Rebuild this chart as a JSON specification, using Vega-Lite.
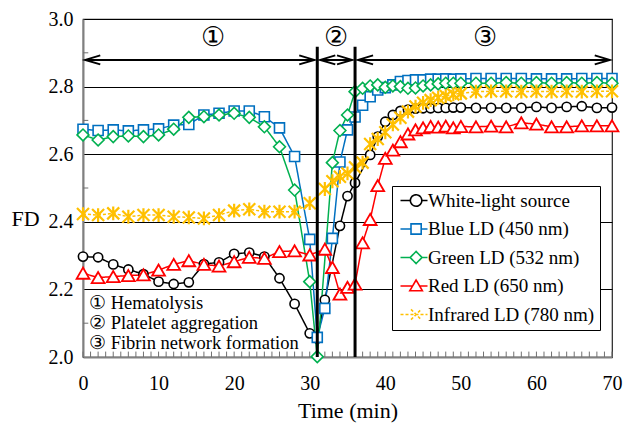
{
  "$schema": "https://vega.github.io/schema/vega-lite/v6.json",
  "width": 529,
  "height": 338,
  "autosize": {"type": "none"},
  "padding": {"left": 83, "top": 19, "right": 18, "bottom": 67},
  "config": {
    "font": "Liberation Serif, Times New Roman, serif",
    "view": {"stroke": "#222222", "strokeWidth": 1.2},
    "axis": {"labelColor": "black", "titleColor": "black", "titleFontWeight": "normal", "labelFont": "Liberation Serif, Times New Roman, serif", "titleFont": "Liberation Serif, Times New Roman, serif"}
  },
  "datasets": {
    "fd": [
      {"series": "White-light source", "t": 0, "fd": 2.297},
      {"series": "White-light source", "t": 2, "fd": 2.295},
      {"series": "White-light source", "t": 4, "fd": 2.274},
      {"series": "White-light source", "t": 6, "fd": 2.259},
      {"series": "White-light source", "t": 8, "fd": 2.245},
      {"series": "White-light source", "t": 10, "fd": 2.223},
      {"series": "White-light source", "t": 12, "fd": 2.216},
      {"series": "White-light source", "t": 14, "fd": 2.221},
      {"series": "White-light source", "t": 16, "fd": 2.275},
      {"series": "White-light source", "t": 18, "fd": 2.28},
      {"series": "White-light source", "t": 20, "fd": 2.305},
      {"series": "White-light source", "t": 22, "fd": 2.309},
      {"series": "White-light source", "t": 24, "fd": 2.297},
      {"series": "White-light source", "t": 26, "fd": 2.233},
      {"series": "White-light source", "t": 28, "fd": 2.157},
      {"series": "White-light source", "t": 30, "fd": 2.07},
      {"series": "White-light source", "t": 31, "fd": 2.055},
      {"series": "White-light source", "t": 32, "fd": 2.169},
      {"series": "White-light source", "t": 34, "fd": 2.388},
      {"series": "White-light source", "t": 35, "fd": 2.476},
      {"series": "White-light source", "t": 36, "fd": 2.515},
      {"series": "White-light source", "t": 38, "fd": 2.598},
      {"series": "White-light source", "t": 39, "fd": 2.652},
      {"series": "White-light source", "t": 40, "fd": 2.696},
      {"series": "White-light source", "t": 41, "fd": 2.716},
      {"series": "White-light source", "t": 42, "fd": 2.728},
      {"series": "White-light source", "t": 43, "fd": 2.732},
      {"series": "White-light source", "t": 44, "fd": 2.735},
      {"series": "White-light source", "t": 45, "fd": 2.736},
      {"series": "White-light source", "t": 46, "fd": 2.736},
      {"series": "White-light source", "t": 47, "fd": 2.737},
      {"series": "White-light source", "t": 48, "fd": 2.737},
      {"series": "White-light source", "t": 49, "fd": 2.738},
      {"series": "White-light source", "t": 50, "fd": 2.738},
      {"series": "White-light source", "t": 52, "fd": 2.737},
      {"series": "White-light source", "t": 54, "fd": 2.737},
      {"series": "White-light source", "t": 56, "fd": 2.737},
      {"series": "White-light source", "t": 58, "fd": 2.737},
      {"series": "White-light source", "t": 60, "fd": 2.74},
      {"series": "White-light source", "t": 62, "fd": 2.737},
      {"series": "White-light source", "t": 64, "fd": 2.74},
      {"series": "White-light source", "t": 66, "fd": 2.742},
      {"series": "White-light source", "t": 68, "fd": 2.737},
      {"series": "White-light source", "t": 70, "fd": 2.738},

      {"series": "Blue LD (450 nm)", "t": 0, "fd": 2.674},
      {"series": "Blue LD (450 nm)", "t": 2, "fd": 2.67},
      {"series": "Blue LD (450 nm)", "t": 4, "fd": 2.672},
      {"series": "Blue LD (450 nm)", "t": 6, "fd": 2.669},
      {"series": "Blue LD (450 nm)", "t": 8, "fd": 2.672},
      {"series": "Blue LD (450 nm)", "t": 10, "fd": 2.675},
      {"series": "Blue LD (450 nm)", "t": 12, "fd": 2.686},
      {"series": "Blue LD (450 nm)", "t": 14, "fd": 2.688},
      {"series": "Blue LD (450 nm)", "t": 16, "fd": 2.716},
      {"series": "Blue LD (450 nm)", "t": 18, "fd": 2.721},
      {"series": "Blue LD (450 nm)", "t": 20, "fd": 2.728},
      {"series": "Blue LD (450 nm)", "t": 22, "fd": 2.728},
      {"series": "Blue LD (450 nm)", "t": 24, "fd": 2.711},
      {"series": "Blue LD (450 nm)", "t": 26, "fd": 2.678},
      {"series": "Blue LD (450 nm)", "t": 28, "fd": 2.593},
      {"series": "Blue LD (450 nm)", "t": 30, "fd": 2.348},
      {"series": "Blue LD (450 nm)", "t": 31, "fd": 2.058},
      {"series": "Blue LD (450 nm)", "t": 32, "fd": 2.144},
      {"series": "Blue LD (450 nm)", "t": 33, "fd": 2.351},
      {"series": "Blue LD (450 nm)", "t": 34, "fd": 2.577},
      {"series": "Blue LD (450 nm)", "t": 35, "fd": 2.672},
      {"series": "Blue LD (450 nm)", "t": 36, "fd": 2.71},
      {"series": "Blue LD (450 nm)", "t": 37, "fd": 2.745},
      {"series": "Blue LD (450 nm)", "t": 38, "fd": 2.77},
      {"series": "Blue LD (450 nm)", "t": 39, "fd": 2.79},
      {"series": "Blue LD (450 nm)", "t": 40, "fd": 2.797},
      {"series": "Blue LD (450 nm)", "t": 41, "fd": 2.805},
      {"series": "Blue LD (450 nm)", "t": 42, "fd": 2.815},
      {"series": "Blue LD (450 nm)", "t": 43, "fd": 2.818},
      {"series": "Blue LD (450 nm)", "t": 44, "fd": 2.82},
      {"series": "Blue LD (450 nm)", "t": 45, "fd": 2.82},
      {"series": "Blue LD (450 nm)", "t": 46, "fd": 2.822},
      {"series": "Blue LD (450 nm)", "t": 47, "fd": 2.822},
      {"series": "Blue LD (450 nm)", "t": 48, "fd": 2.823},
      {"series": "Blue LD (450 nm)", "t": 49, "fd": 2.822},
      {"series": "Blue LD (450 nm)", "t": 50, "fd": 2.823},
      {"series": "Blue LD (450 nm)", "t": 52, "fd": 2.824},
      {"series": "Blue LD (450 nm)", "t": 54, "fd": 2.824},
      {"series": "Blue LD (450 nm)", "t": 56, "fd": 2.824},
      {"series": "Blue LD (450 nm)", "t": 58, "fd": 2.824},
      {"series": "Blue LD (450 nm)", "t": 60, "fd": 2.823},
      {"series": "Blue LD (450 nm)", "t": 62, "fd": 2.823},
      {"series": "Blue LD (450 nm)", "t": 64, "fd": 2.823},
      {"series": "Blue LD (450 nm)", "t": 66, "fd": 2.824},
      {"series": "Blue LD (450 nm)", "t": 68, "fd": 2.824},
      {"series": "Blue LD (450 nm)", "t": 70, "fd": 2.824},

      {"series": "Green LD (532 nm)", "t": 0, "fd": 2.657},
      {"series": "Green LD (532 nm)", "t": 2, "fd": 2.642},
      {"series": "Green LD (532 nm)", "t": 4, "fd": 2.652},
      {"series": "Green LD (532 nm)", "t": 6, "fd": 2.654},
      {"series": "Green LD (532 nm)", "t": 8, "fd": 2.652},
      {"series": "Green LD (532 nm)", "t": 10, "fd": 2.657},
      {"series": "Green LD (532 nm)", "t": 12, "fd": 2.674},
      {"series": "Green LD (532 nm)", "t": 14, "fd": 2.709},
      {"series": "Green LD (532 nm)", "t": 16, "fd": 2.711},
      {"series": "Green LD (532 nm)", "t": 18, "fd": 2.716},
      {"series": "Green LD (532 nm)", "t": 20, "fd": 2.721},
      {"series": "Green LD (532 nm)", "t": 22, "fd": 2.709},
      {"series": "Green LD (532 nm)", "t": 24, "fd": 2.681},
      {"series": "Green LD (532 nm)", "t": 26, "fd": 2.622},
      {"series": "Green LD (532 nm)", "t": 28, "fd": 2.494},
      {"series": "Green LD (532 nm)", "t": 30, "fd": 2.223},
      {"series": "Green LD (532 nm)", "t": 31, "fd": 2.001},
      {"series": "Green LD (532 nm)", "t": 33, "fd": 2.575},
      {"series": "Green LD (532 nm)", "t": 34, "fd": 2.67},
      {"series": "Green LD (532 nm)", "t": 35, "fd": 2.716},
      {"series": "Green LD (532 nm)", "t": 36, "fd": 2.785},
      {"series": "Green LD (532 nm)", "t": 37, "fd": 2.795},
      {"series": "Green LD (532 nm)", "t": 38, "fd": 2.802},
      {"series": "Green LD (532 nm)", "t": 39, "fd": 2.805},
      {"series": "Green LD (532 nm)", "t": 40, "fd": 2.798},
      {"series": "Green LD (532 nm)", "t": 41, "fd": 2.802},
      {"series": "Green LD (532 nm)", "t": 42, "fd": 2.8},
      {"series": "Green LD (532 nm)", "t": 43, "fd": 2.795},
      {"series": "Green LD (532 nm)", "t": 44, "fd": 2.796},
      {"series": "Green LD (532 nm)", "t": 45, "fd": 2.802},
      {"series": "Green LD (532 nm)", "t": 46, "fd": 2.805},
      {"series": "Green LD (532 nm)", "t": 47, "fd": 2.808},
      {"series": "Green LD (532 nm)", "t": 48, "fd": 2.81},
      {"series": "Green LD (532 nm)", "t": 49, "fd": 2.81},
      {"series": "Green LD (532 nm)", "t": 50, "fd": 2.81},
      {"series": "Green LD (532 nm)", "t": 52, "fd": 2.81},
      {"series": "Green LD (532 nm)", "t": 54, "fd": 2.81},
      {"series": "Green LD (532 nm)", "t": 56, "fd": 2.812},
      {"series": "Green LD (532 nm)", "t": 58, "fd": 2.81},
      {"series": "Green LD (532 nm)", "t": 60, "fd": 2.812},
      {"series": "Green LD (532 nm)", "t": 62, "fd": 2.81},
      {"series": "Green LD (532 nm)", "t": 64, "fd": 2.812},
      {"series": "Green LD (532 nm)", "t": 66, "fd": 2.81},
      {"series": "Green LD (532 nm)", "t": 68, "fd": 2.812},
      {"series": "Green LD (532 nm)", "t": 70, "fd": 2.81},

      {"series": "Red LD (650 nm)", "t": 0, "fd": 2.248},
      {"series": "Red LD (650 nm)", "t": 2, "fd": 2.235},
      {"series": "Red LD (650 nm)", "t": 4, "fd": 2.238},
      {"series": "Red LD (650 nm)", "t": 6, "fd": 2.241},
      {"series": "Red LD (650 nm)", "t": 8, "fd": 2.243},
      {"series": "Red LD (650 nm)", "t": 10, "fd": 2.257},
      {"series": "Red LD (650 nm)", "t": 12, "fd": 2.274},
      {"series": "Red LD (650 nm)", "t": 14, "fd": 2.285},
      {"series": "Red LD (650 nm)", "t": 16, "fd": 2.274},
      {"series": "Red LD (650 nm)", "t": 18, "fd": 2.269},
      {"series": "Red LD (650 nm)", "t": 20, "fd": 2.282},
      {"series": "Red LD (650 nm)", "t": 22, "fd": 2.295},
      {"series": "Red LD (650 nm)", "t": 24, "fd": 2.292},
      {"series": "Red LD (650 nm)", "t": 26, "fd": 2.312},
      {"series": "Red LD (650 nm)", "t": 28, "fd": 2.314},
      {"series": "Red LD (650 nm)", "t": 30, "fd": 2.302},
      {"series": "Red LD (650 nm)", "t": 32, "fd": 2.319},
      {"series": "Red LD (650 nm)", "t": 33, "fd": 2.265},
      {"series": "Red LD (650 nm)", "t": 34, "fd": 2.186},
      {"series": "Red LD (650 nm)", "t": 35, "fd": 2.206},
      {"series": "Red LD (650 nm)", "t": 36, "fd": 2.216},
      {"series": "Red LD (650 nm)", "t": 37, "fd": 2.338},
      {"series": "Red LD (650 nm)", "t": 38, "fd": 2.407},
      {"series": "Red LD (650 nm)", "t": 39, "fd": 2.507},
      {"series": "Red LD (650 nm)", "t": 40, "fd": 2.588},
      {"series": "Red LD (650 nm)", "t": 41, "fd": 2.612},
      {"series": "Red LD (650 nm)", "t": 42, "fd": 2.637},
      {"series": "Red LD (650 nm)", "t": 43, "fd": 2.66},
      {"series": "Red LD (650 nm)", "t": 44, "fd": 2.672},
      {"series": "Red LD (650 nm)", "t": 45, "fd": 2.678},
      {"series": "Red LD (650 nm)", "t": 46, "fd": 2.682},
      {"series": "Red LD (650 nm)", "t": 47, "fd": 2.68},
      {"series": "Red LD (650 nm)", "t": 48, "fd": 2.683},
      {"series": "Red LD (650 nm)", "t": 49, "fd": 2.678},
      {"series": "Red LD (650 nm)", "t": 50, "fd": 2.682},
      {"series": "Red LD (650 nm)", "t": 52, "fd": 2.681},
      {"series": "Red LD (650 nm)", "t": 54, "fd": 2.683},
      {"series": "Red LD (650 nm)", "t": 56, "fd": 2.681},
      {"series": "Red LD (650 nm)", "t": 58, "fd": 2.693},
      {"series": "Red LD (650 nm)", "t": 60, "fd": 2.689},
      {"series": "Red LD (650 nm)", "t": 62, "fd": 2.681},
      {"series": "Red LD (650 nm)", "t": 64, "fd": 2.681},
      {"series": "Red LD (650 nm)", "t": 66, "fd": 2.684},
      {"series": "Red LD (650 nm)", "t": 68, "fd": 2.684},
      {"series": "Red LD (650 nm)", "t": 70, "fd": 2.684},

      {"series": "Infrared LD (780 nm)", "t": 0, "fd": 2.423},
      {"series": "Infrared LD (780 nm)", "t": 2, "fd": 2.42},
      {"series": "Infrared LD (780 nm)", "t": 4, "fd": 2.425},
      {"series": "Infrared LD (780 nm)", "t": 6, "fd": 2.415},
      {"series": "Infrared LD (780 nm)", "t": 8, "fd": 2.42},
      {"series": "Infrared LD (780 nm)", "t": 10, "fd": 2.42},
      {"series": "Infrared LD (780 nm)", "t": 12, "fd": 2.415},
      {"series": "Infrared LD (780 nm)", "t": 14, "fd": 2.413},
      {"series": "Infrared LD (780 nm)", "t": 16, "fd": 2.41},
      {"series": "Infrared LD (780 nm)", "t": 18, "fd": 2.42},
      {"series": "Infrared LD (780 nm)", "t": 20, "fd": 2.433},
      {"series": "Infrared LD (780 nm)", "t": 22, "fd": 2.437},
      {"series": "Infrared LD (780 nm)", "t": 24, "fd": 2.43},
      {"series": "Infrared LD (780 nm)", "t": 26, "fd": 2.43},
      {"series": "Infrared LD (780 nm)", "t": 28, "fd": 2.43},
      {"series": "Infrared LD (780 nm)", "t": 30, "fd": 2.455},
      {"series": "Infrared LD (780 nm)", "t": 32, "fd": 2.497},
      {"series": "Infrared LD (780 nm)", "t": 33, "fd": 2.52},
      {"series": "Infrared LD (780 nm)", "t": 34, "fd": 2.533},
      {"series": "Infrared LD (780 nm)", "t": 35, "fd": 2.543},
      {"series": "Infrared LD (780 nm)", "t": 36, "fd": 2.561},
      {"series": "Infrared LD (780 nm)", "t": 37, "fd": 2.575},
      {"series": "Infrared LD (780 nm)", "t": 38, "fd": 2.63},
      {"series": "Infrared LD (780 nm)", "t": 39, "fd": 2.645},
      {"series": "Infrared LD (780 nm)", "t": 40, "fd": 2.665},
      {"series": "Infrared LD (780 nm)", "t": 41, "fd": 2.688},
      {"series": "Infrared LD (780 nm)", "t": 42, "fd": 2.708},
      {"series": "Infrared LD (780 nm)", "t": 43, "fd": 2.726},
      {"series": "Infrared LD (780 nm)", "t": 44, "fd": 2.741},
      {"series": "Infrared LD (780 nm)", "t": 45, "fd": 2.752},
      {"series": "Infrared LD (780 nm)", "t": 46, "fd": 2.76},
      {"series": "Infrared LD (780 nm)", "t": 47, "fd": 2.767},
      {"series": "Infrared LD (780 nm)", "t": 48, "fd": 2.772},
      {"series": "Infrared LD (780 nm)", "t": 49, "fd": 2.777},
      {"series": "Infrared LD (780 nm)", "t": 50, "fd": 2.78},
      {"series": "Infrared LD (780 nm)", "t": 52, "fd": 2.785},
      {"series": "Infrared LD (780 nm)", "t": 54, "fd": 2.786},
      {"series": "Infrared LD (780 nm)", "t": 56, "fd": 2.786},
      {"series": "Infrared LD (780 nm)", "t": 58, "fd": 2.785},
      {"series": "Infrared LD (780 nm)", "t": 60, "fd": 2.786},
      {"series": "Infrared LD (780 nm)", "t": 62, "fd": 2.785},
      {"series": "Infrared LD (780 nm)", "t": 64, "fd": 2.786},
      {"series": "Infrared LD (780 nm)", "t": 66, "fd": 2.785},
      {"series": "Infrared LD (780 nm)", "t": 68, "fd": 2.786},
      {"series": "Infrared LD (780 nm)", "t": 70, "fd": 2.786}
    ]
  },
  "layer": [
    {
      "data": {"values": [{"t":0},{"t":1},{"t":2},{"t":3},{"t":4},{"t":5},{"t":6},{"t":7},{"t":8},{"t":9},{"t":10},{"t":11},{"t":12},{"t":13},{"t":14},{"t":15},{"t":16},{"t":17},{"t":18},{"t":19},{"t":20},{"t":21},{"t":22},{"t":23},{"t":24},{"t":25},{"t":26},{"t":27},{"t":28},{"t":29},{"t":30},{"t":31},{"t":32},{"t":33},{"t":34},{"t":35},{"t":36},{"t":37},{"t":38},{"t":39},{"t":40},{"t":41},{"t":42},{"t":43},{"t":44},{"t":45},{"t":46},{"t":47},{"t":48},{"t":49},{"t":50},{"t":51},{"t":52},{"t":53},{"t":54},{"t":55},{"t":56},{"t":57},{"t":58},{"t":59},{"t":60},{"t":61},{"t":62},{"t":63},{"t":64},{"t":65},{"t":66},{"t":67},{"t":68},{"t":69},{"t":70}]},
      "mark": {"type": "rule", "color": "#707070", "strokeWidth": 1},
      "encoding": {
        "x": {
          "field": "t", "type": "quantitative",
          "scale": {"domain": [0, 70], "nice": false, "zero": false},
          "axis": {
            "values": [0,5,10,15,20,25,30,35,40,45,50,55,60,65,70],
            "format": "d",
            "labelFontSize": 20,
            "labelFlush": false,
            "labelOverlap": false,
            "ticks": false,
            "labelPadding": 16,
            "domainColor": "#808080",
            "domainWidth": 2,
            "grid": false,
            "title": "Time (min)",
            "titleFontSize": 22,
            "titleFontWeight": "normal",
            "titleY": 53,
            "titleBaseline": "middle"
          }
        },
        "y": {"datum": 2.0},
        "y2": {"datum": 2.016}
      }
    },
    {
      "data": {"values": [{"v":2.1},{"v":2.3},{"v":2.5},{"v":2.7},{"v":2.9}]},
      "mark": {"type": "rule", "color": "#707070", "strokeWidth": 1},
      "encoding": {
        "y": {
          "field": "v", "type": "quantitative",
          "scale": {"domain": [2.0, 3.0], "nice": false, "zero": false},
          "axis": {
            "values": [2.0,2.2,2.4,2.6,2.8,3.0],
            "format": ".1f",
            "labelFontSize": 20,
            "labelFlush": false,
            "labelOverlap": false,
            "ticks": false,
            "labelPadding": 10,
            "domainColor": "#808080",
            "domainWidth": 2,
            "grid": true,
            "gridColor": "black",
            "gridWidth": 1,
            "title": "FD",
            "titleFontSize": 22,
            "titleFontWeight": "normal",
            "titleAngle": 0,
            "titleX": -58,
            "titleY": 199,
            "titleAlign": "center",
            "titleBaseline": "middle"
          }
        },
        "x": {"datum": 0},
        "x2": {"datum": 0.7}
      }
    },
    {
      "data": {"name": "fd"},
      "mark": {"type": "line", "strokeWidth": 1.5},
      "encoding": {
        "x": {"field": "t", "type": "quantitative"},
        "y": {"field": "fd", "type": "quantitative"},
        "color": {
          "field": "series", "type": "nominal",
          "scale": {
            "domain": ["White-light source", "Blue LD (450 nm)", "Green LD (532 nm)", "Red LD (650 nm)", "Infrared LD (780 nm)"],
            "range": ["#000000", "#0070C0", "#00B050", "#FF0000", "#FFC000"]
          },
          "legend": {
            "orient": "none", "legendX": 309, "legendY": 167, "title": null,
            "labelFont": "Liberation Serif, Times New Roman, serif",
            "labelFontSize": 19, "labelColor": "black", "labelLimit": 400,
            "padding": 5, "rowPadding": 8.5, "strokeColor": "black", "fillColor": "white",
            "symbolSize": 144, "symbolStrokeWidth": 1.6, "symbolFillColor": "white", "symbolOpacity": 1,
            "labelOffset": 12, "labelExpr": "datum.label + '  '"
          }
        },
        "strokeDash": {
          "field": "series", "type": "nominal",
          "scale": {
            "domain": ["White-light source", "Blue LD (450 nm)", "Green LD (532 nm)", "Red LD (650 nm)", "Infrared LD (780 nm)"],
            "range": [[1, 0], [1, 0], [1, 0], [1, 0], [3, 2]]
          },
          "legend": null
        }
      }
    },
    {
      "data": {"name": "fd"},
      "transform": [{"filter": "false"}],
      "mark": {"type": "point", "filled": false, "size": 144, "strokeWidth": 1.6},
      "encoding": {
        "x": {"field": "t", "type": "quantitative"},
        "y": {"field": "fd", "type": "quantitative"},
        "color": {
          "field": "series", "type": "nominal",
          "legend": {
            "orient": "none", "legendX": 309, "legendY": 167, "title": null,
            "labelFont": "Liberation Serif, Times New Roman, serif",
            "labelFontSize": 19, "labelColor": "black", "labelLimit": 400,
            "padding": 5, "rowPadding": 8.5, "strokeColor": "black", "fillColor": "white",
            "symbolSize": 144, "symbolStrokeWidth": 1.6, "symbolFillColor": "white", "symbolOpacity": 1,
            "labelOffset": 12, "labelExpr": "datum.label + '  '"
          }
        },
        "shape": {
          "field": "series", "type": "nominal",
          "scale": {
            "domain": ["White-light source", "Blue LD (450 nm)", "Green LD (532 nm)", "Red LD (650 nm)", "Infrared LD (780 nm)"],
            "range": [
              "M -1 0 L 0.65 0 M 2.55 0 L 3.5 0 M 2.55 0 A 0.95 0.95 0 1 1 0.65 0 A 0.95 0.95 0 1 1 2.55 0 Z",
              "M -1 0 L 0.75 0 M 2.45 0 L 3.5 0 M 0.75 -0.85 L 2.45 -0.85 L 2.45 0.85 L 0.75 0.85 Z",
              "M -1 0 L 0.6 0 M 2.6 0 L 3.5 0 M 0.6 0 L 1.6 -1 L 2.6 0 L 1.6 1 Z",
              "M -1 0 L 1.02 0 M 2.18 0 L 3.5 0 M 1.6 -1 L 2.65 0.8 L 0.55 0.8 Z",
              "M -1 0 L 3.5 0 M 0.75 -0.85 L 2.45 0.85 M 0.75 0.85 L 2.45 -0.85"
            ]
          },
          "legend": {
            "orient": "none", "legendX": 309, "legendY": 167, "title": null,
            "labelFont": "Liberation Serif, Times New Roman, serif",
            "labelFontSize": 19, "labelColor": "black", "labelLimit": 400,
            "padding": 5, "rowPadding": 8.5, "strokeColor": "black", "fillColor": "white",
            "symbolSize": 144, "symbolStrokeWidth": 1.6, "symbolFillColor": "white", "symbolOpacity": 1,
            "labelOffset": 12, "labelExpr": "datum.label + '  '"
          }
        }
      }
    },
    {
      "data": {"name": "fd"},
      "transform": [{"filter": "datum.series === 'White-light source'"}],
      "mark": {"type": "point", "shape": "circle", "size": 85, "filled": false, "fill": "white", "stroke": "#000000", "strokeWidth": 1.6, "opacity": 1},
      "encoding": {"x": {"field": "t", "type": "quantitative"}, "y": {"field": "fd", "type": "quantitative"}}
    },
    {
      "data": {"name": "fd"},
      "transform": [{"filter": "datum.series === 'Blue LD (450 nm)'"}],
      "mark": {"type": "point", "shape": "square", "size": 100, "filled": false, "fill": "white", "stroke": "#0070C0", "strokeWidth": 1.6, "opacity": 1},
      "encoding": {"x": {"field": "t", "type": "quantitative"}, "y": {"field": "fd", "type": "quantitative"}}
    },
    {
      "data": {"name": "fd"},
      "transform": [{"filter": "datum.series === 'Green LD (532 nm)'"}],
      "mark": {"type": "point", "shape": "diamond", "size": 140, "filled": false, "fill": "white", "stroke": "#00B050", "strokeWidth": 1.6, "opacity": 1},
      "encoding": {"x": {"field": "t", "type": "quantitative"}, "y": {"field": "fd", "type": "quantitative"}}
    },
    {
      "data": {"name": "fd"},
      "transform": [{"filter": "datum.series === 'Red LD (650 nm)'"}],
      "mark": {"type": "point", "shape": "triangle-up", "size": 165, "filled": false, "fill": "white", "stroke": "#FF0000", "strokeWidth": 1.8, "opacity": 1},
      "encoding": {"x": {"field": "t", "type": "quantitative"}, "y": {"field": "fd", "type": "quantitative"}}
    },
    {
      "data": {"name": "fd"},
      "transform": [{"filter": "datum.series === 'Infrared LD (780 nm)'"}],
      "mark": {"type": "point", "shape": "M -1 -1 L 1 1 M -1 1 L 1 -1 M 0 -1.15 L 0 1.15", "size": 144, "filled": false, "stroke": "#FFC000", "strokeWidth": 2.2, "opacity": 1},
      "encoding": {"x": {"field": "t", "type": "quantitative"}, "y": {"field": "fd", "type": "quantitative"}}
    },
    {
      "data": {"values": [{"t": 31}, {"t": 36}]},
      "mark": {"type": "rule", "color": "black", "strokeWidth": 3},
      "encoding": {
        "x": {"field": "t", "type": "quantitative"},
        "y": {"datum": 2.0},
        "y2": {"datum": 2.918}
      }
    },
    {
      "data": {"values": [{"a": 0.3, "b": 30.6}, {"a": 31.4, "b": 35.6}, {"a": 36.4, "b": 69.7}]},
      "mark": {"type": "rule", "color": "black", "strokeWidth": 2},
      "encoding": {
        "x": {"field": "a", "type": "quantitative"},
        "x2": {"field": "b"},
        "y": {"datum": 2.879}
      }
    },
    {
      "data": {"values": [{"t": 0.3}, {"t": 31.4}, {"t": 36.4}]},
      "mark": {"type": "point", "shape": "M 1 -0.3 L 0 0 L 1 0.3", "size": 900, "filled": false, "color": "black", "strokeWidth": 2, "opacity": 1},
      "encoding": {
        "x": {"field": "t", "type": "quantitative"},
        "y": {"datum": 2.879}
      }
    },
    {
      "data": {"values": [{"t": 30.6}, {"t": 35.6}, {"t": 69.7}]},
      "mark": {"type": "point", "shape": "M -1 -0.3 L 0 0 L -1 0.3", "size": 900, "filled": false, "color": "black", "strokeWidth": 2, "opacity": 1},
      "encoding": {
        "x": {"field": "t", "type": "quantitative"},
        "y": {"datum": 2.879}
      }
    },
    {
      "data": {"values": [{"t": 17.2, "y": 2.944, "label": "①"}, {"t": 33.5, "y": 2.944, "label": "②"}, {"t": 53.2, "y": 2.944, "label": "③"}]},
      "mark": {"type": "text", "fontSize": 27, "align": "center", "baseline": "middle", "color": "black", "font": "Liberation Serif, Times New Roman, serif"},
      "encoding": {
        "x": {"field": "t", "type": "quantitative"},
        "y": {"field": "y", "type": "quantitative"},
        "text": {"field": "label"}
      }
    },
    {
      "data": {"values": [{"t": 0.8, "y": 2.161, "label": "① Hematolysis"}, {"t": 0.8, "y": 2.1, "label": "② Platelet aggregation"}, {"t": 0.8, "y": 2.04, "label": "③ Fibrin network formation"}]},
      "mark": {"type": "text", "fontSize": 18.5, "align": "left", "baseline": "middle", "color": "black", "font": "Liberation Serif, Times New Roman, serif"},
      "encoding": {
        "x": {"field": "t", "type": "quantitative"},
        "y": {"field": "y", "type": "quantitative"},
        "text": {"field": "label"}
      }
    }
  ]
}
